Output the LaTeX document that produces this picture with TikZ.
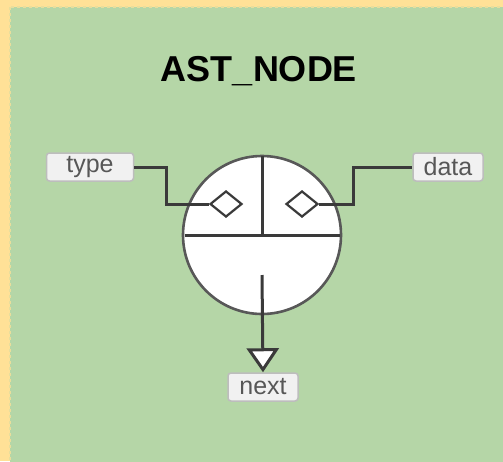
\documentclass[tikz,border=0pt]{standalone}
\usepackage{fontspec}
\setmainfont{Liberation Sans}
\usepackage{tikz}
\usetikzlibrary{arrows.meta,shapes.geometric,calc}
\usepackage{xcolor}
\definecolor{Sand}{HTML}{FFE197}
\definecolor{Sage}{HTML}{B5D6A7}
\definecolor{Coal}{HTML}{3A3A3A}
\definecolor{Ash}{HTML}{BDBDBD}
\definecolor{Mist}{HTML}{F1F1F1}
\newcommand{\tagfont}{\fontsize{25}{28}\selectfont}
\tikzset{
  tag/.style={draw=Ash,fill=Mist,line width=1.5pt,rounded corners=3pt,
    minimum width=70pt,minimum height=28pt,inner sep=0pt,text=Coal!85!white,font=\tagfont},
  wire/.style={draw=Coal,line width=3pt},
  slot/.style={diamond,draw=Coal,fill=white,line width=2.2pt,inner sep=0pt,
    minimum width=32pt,minimum height=26pt}
}

\begin{document}
\begin{tikzpicture}[x=1pt,y=-1pt]
    \useasboundingbox (0,0) rectangle (503,461);
    \fill[Sand] (0,0) rectangle (503,461);
    \draw[fill=Sage,draw=Sand!70!Sage,line width=2pt,dashed] (10,7) rectangle (520,480);

    \node[font=\bfseries\fontsize{36}{40}\selectfont] (title) at (259,71) {AST\_NODE};

    \node[circle,draw=Coal!85!white,fill=white,line width=2.6pt,minimum size=158pt,inner sep=0pt,outer sep=0pt] (ast) at (262,235) {};
    \draw[wire] ($(ast.west)+(1.5,0)$) -- ($(ast.east)+(-1.5,0)$);
    \draw[wire] (ast.north) -- (ast.center);

    \node[tag,minimum width=87pt] (type) at (90,167) {type};
    \node[tag] (data) at (448,167) {data};
    \node[tag] (next) at (263,387) {next};

    \node[slot] (tslot) at (226,204) {};
    \node[slot] (dslot) at (302,204) {};
    \draw[wire] (tslot.west) -- ++(-42,0) |- (type.east);
    \draw[wire] (dslot.east) -- ++(34,0) |- (data.west);

    \coordinate (stem) at ($(ast.center)+(0,40)$);
    \draw[wire,-{Triangle[width=32pt,length=24pt,fill=white]}] (stem) -- (next.north);
\end{tikzpicture}
\end{document}
